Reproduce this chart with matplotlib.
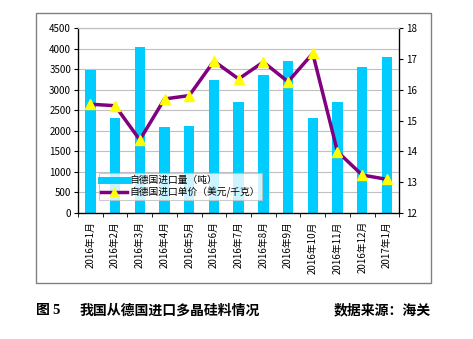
import matplotlib
matplotlib.use("Agg")
import matplotlib.pyplot as plt
from matplotlib.patches import Rectangle
from matplotlib.lines import Line2D
import numpy as np

plt.rcParams['font.family'] = ['Noto Sans CJK SC', 'DejaVu Sans']

months = ["2016年1月", "2016年2月", "2016年3月", "2016年4月", "2016年5月", "2016年6月",
          "2016年7月", "2016年8月", "2016年9月", "2016年10月", "2016年11月", "2016年12月",
          "2017年1月"]
volume = [3470, 2320, 4040, 2100, 2120, 3240, 2690, 3360, 3690, 2320, 2710, 3560, 3790]
price = [15.53, 15.48, 14.37, 15.70, 15.81, 16.93, 16.35, 16.90, 16.26, 17.18, 13.99, 13.23, 13.09]
left_ticks = [0, 500, 1000, 1500, 2000, 2500, 3000, 3500, 4000, 4500]
right_ticks = [12, 13, 14, 15, 16, 17, 18]

fig = plt.figure(figsize=(4.73, 3.39), dpi=100)
fig.patch.set_facecolor("white")

# outer frame around the chart
fig.patches.append(Rectangle((0.076, 0.165), 0.835, 0.797, transform=fig.transFigure,
                             fill=False, edgecolor="#808080", linewidth=1.0))

ax = fig.add_axes([0.165, 0.372, 0.679, 0.545])
x = np.arange(len(months))
ax.bar(x, volume, width=0.42, color="#00CCFF", zorder=2)
ax.set_xlim(-0.5, len(months) - 0.5)
ax.set_ylim(0, 4500)
ax.set_yticks(left_ticks)
ax.tick_params(axis="y", labelsize=7, length=3, direction="out", pad=2)
ax.yaxis.grid(True, color="#C0C0C0", linewidth=0.8, zorder=0)
ax.set_axisbelow(True)

ax.set_xticks(x)
ax.set_xticklabels(months, rotation=90, fontsize=7)
ax.set_xticks(np.arange(len(months) + 1) - 0.5, minor=True)
ax.tick_params(axis="x", which="major", length=0, pad=6)
ax.tick_params(axis="x", which="minor", length=3, direction="out")

for s in ["left", "bottom"]:
    ax.spines[s].set_color("black")
    ax.spines[s].set_linewidth(0.9)
ax.spines["top"].set_color("#C0C0C0")
ax.spines["right"].set_color("black")

ax2 = ax.twinx()
ax2.plot(x, price, color="#800080", linewidth=2.5, zorder=3)
ax2.plot(x, price, linestyle="none", marker="^", markersize=6.5,
         markerfacecolor="#FFFF00", markeredgecolor="#FFFF00", zorder=4)
ax2.set_ylim(12, 18)
ax2.set_yticks(right_ticks)
ax2.tick_params(axis="y", labelsize=7, length=3, direction="out", pad=2)
ax2.spines["right"].set_color("black")
ax2.spines["right"].set_linewidth(0.9)
ax2.spines["top"].set_color("#C0C0C0")

h1 = Line2D([], [], color="#00CCFF", linewidth=5)
h2 = Line2D([], [], color="#800080", linewidth=2.5, marker="^", markersize=6,
            markerfacecolor="#FFFF00", markeredgecolor="#FFFF00")
leg = ax2.legend([h1, h2], ["自德国进口量（吨）", "自德国进口单价（美元/千克）"],
                 loc="lower left", bbox_to_anchor=(0.065, 0.07), fontsize=7,
                 frameon=True, fancybox=False, handlelength=2.6, handletextpad=0.3,
                 borderpad=0.25, labelspacing=0.15, borderaxespad=0)
leg.get_frame().set_edgecolor("#C0C0C0")
leg.get_frame().set_linewidth(0.8)

cap_y = 0.085
fig.text(0.076, cap_y, "图", fontsize=10, fontweight="bold", ha="left", va="center")
fig.text(0.110, cap_y, "5", fontsize=10.5, fontweight="bold", ha="left", va="center",
         family="Liberation Serif")
fig.text(0.169, cap_y, "我国从德国进口多晶硅料情况", fontsize=10,
         fontweight="bold", ha="left", va="center")
fig.text(0.911, cap_y, "数据来源：海关", fontsize=10, fontweight="bold",
         ha="right", va="center")

fig.savefig("out.png", dpi=100, facecolor="white")
